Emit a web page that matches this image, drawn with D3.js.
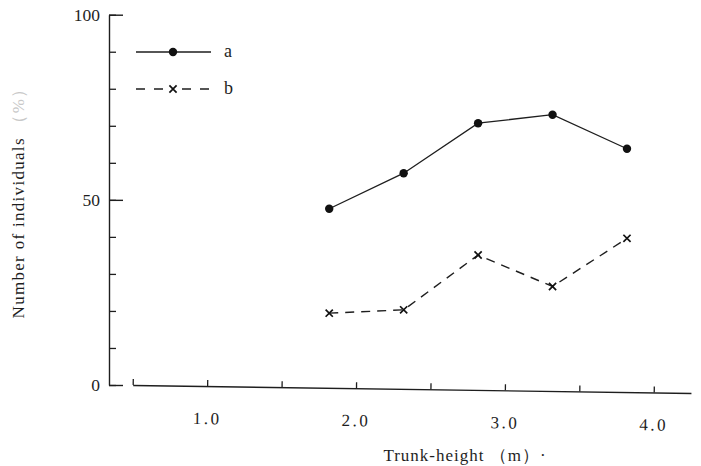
<!DOCTYPE html>
<html><head><meta charset="utf-8">
<script src="https://cdn.jsdelivr.net/npm/d3@7/dist/d3.min.js"></script>
<style>body{margin:0;background:#fff} svg{display:block} text{font-family:"Liberation Serif","Times New Roman",Times,serif}</style>
</head><body>
<script>
// ---- data ----
const heights = [1.82, 2.32, 2.82, 3.32, 3.82];
const seriesA = [47.6, 57.2, 70.7, 73.0, 63.8];
const seriesB = [19.4, 20.3, 35.1, 26.6, 39.6];
const seriesNames = ["a", "b"];
const xTicks = [0.5, 1, 1.5, 2, 2.5, 3, 3.5, 4];
const xTickLabels = ["", "1.0", "", "2.0", "", "3.0", "", "4.0"];
const yMinorTicks = [0, 10, 20, 30, 40, 50, 60, 70, 80, 90, 100];
const yMajorTicks = [0, 50, 100];
const xTitle = "Trunk-height （m）·";
const yTitle = "Number of individuals ";
const yTitleUnit = "（%）";

const W = 701, H = 466;
const ink = "#1e1e1e";
const font = "Liberation Serif, Times New Roman, Times, serif";

const svg = d3.select("body").append("svg").attr("width", W).attr("height", H)
  .style("background", "#fff");

const x = d3.scaleLinear().domain([0.5, 4.25]).range([132.7, 691]);
const y = d3.scaleLinear().domain([0, 100]).range([385, 14.7]);

// ---- x axis (slightly tilted, as in the scanned figure) ----
const gx = svg.append("g")
  .attr("transform", "translate(0,385) rotate(0.82,132.7,0)")
  .call(d3.axisBottom(x).tickValues(xTicks).tickSizeInner(-6).tickSizeOuter(0)
    .tickPadding(26).tickFormat((d, i) => xTickLabels[i]));
gx.attr("font-family", font).attr("font-size", 17);
gx.select(".domain").attr("stroke", ink).attr("stroke-width", 1.4);
gx.selectAll(".tick line").attr("stroke", ink).attr("stroke-width", 1.3);
gx.selectAll(".tick text").attr("fill", ink).style("letter-spacing", "2.5px");

// ---- y axis ----
const gy = svg.append("g").attr("transform", "translate(109,0)")
  .call(d3.axisLeft(y).tickValues(yMinorTicks).tickSizeInner(-7).tickSizeOuter(0).tickFormat(""));
gy.select(".domain").attr("stroke", ink).attr("stroke-width", 1.4);
gy.selectAll(".tick line").attr("stroke", ink).attr("stroke-width", 1.3);

const gy2 = svg.append("g").attr("transform", "translate(109,0)")
  .call(d3.axisLeft(y).tickValues(yMajorTicks).tickSizeInner(-14).tickSizeOuter(0).tickPadding(9));
gy2.attr("font-family", font).attr("font-size", 17.5);
gy2.select(".domain").remove();
gy2.selectAll(".tick line").attr("stroke", ink).attr("stroke-width", 1.4);
gy2.selectAll(".tick text").attr("fill", ink);

// ---- lines ----
const line = d3.line().x(d => x(d[0])).y(d => y(d[1]));
const dataA = heights.map((h, i) => [h, seriesA[i]]);
const dataB = heights.map((h, i) => [h, seriesB[i]]);

svg.append("path").datum(dataA).attr("d", line).attr("fill", "none")
  .attr("stroke", ink).attr("stroke-width", 1.3);
svg.append("path").datum(dataB).attr("d", line).attr("fill", "none")
  .attr("stroke", ink).attr("stroke-width", 1.4).attr("stroke-dasharray", "9,7");

function dot(g, cx, cy) {
  g.append("circle").attr("cx", cx).attr("cy", cy).attr("r", 4.2).attr("fill", "#111");
}
function cross(g, cx, cy) {
  const s = 3.6;
  g.append("path").attr("d", `M${cx - s},${cy - s}L${cx + s},${cy + s}M${cx - s},${cy + s}L${cx + s},${cy - s}`)
    .attr("stroke", "#111").attr("stroke-width", 1.7).attr("fill", "none");
}
const marks = svg.append("g");
dataA.forEach(d => dot(marks, x(d[0]), y(d[1])));
dataB.forEach(d => cross(marks, x(d[0]), y(d[1])));

// ---- legend ----
const lg = svg.append("g");
lg.append("line").attr("x1", 136).attr("x2", 211).attr("y1", 52).attr("y2", 52)
  .attr("stroke", ink).attr("stroke-width", 1.3);
dot(lg, 173, 52);
lg.append("line").attr("x1", 136).attr("x2", 164).attr("y1", 89).attr("y2", 89)
  .attr("stroke", ink).attr("stroke-width", 1.4).attr("stroke-dasharray", "9,9");
lg.append("line").attr("x1", 182).attr("x2", 210).attr("y1", 89).attr("y2", 89)
  .attr("stroke", ink).attr("stroke-width", 1.4).attr("stroke-dasharray", "9,9");
cross(lg, 173, 89);
lg.selectAll("text.lab").data(seriesNames).enter().append("text")
  .attr("x", 224).attr("y", (d, i) => 57 + i * 37)
  .attr("fill", ink).attr("font-family", font).attr("font-size", 18).text(d => d);

// ---- titles ----
svg.append("text").attr("x", 465).attr("y", 461).attr("text-anchor", "middle")
  .attr("fill", ink).attr("font-family", font).attr("font-size", 17)
  .style("letter-spacing", "1px").text(xTitle);

const yt = svg.append("text").attr("transform", "translate(24,199) rotate(-90)")
  .attr("text-anchor", "middle").attr("fill", ink)
  .attr("font-family", font).attr("font-size", 17).style("letter-spacing", "1.3px");
yt.append("tspan").text(yTitle);
yt.append("tspan").attr("fill", "#c8c8c8").text(yTitleUnit);
</script>
</body></html>
